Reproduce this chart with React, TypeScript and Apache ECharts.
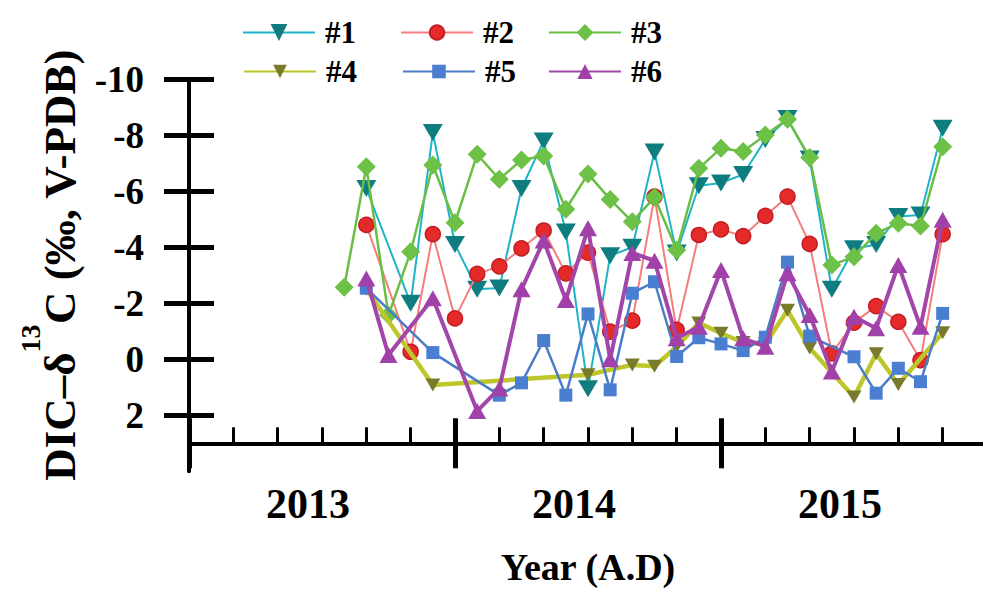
import React, { useEffect, useRef } from "react";
import * as echarts from "echarts";

// Sampling months (index from Jan 2013): Aug 2013 ... Nov 2015
const sampleMonths = [
  "2013-08", "2013-09", "2013-10", "2013-11", "2013-12",
  "2014-01", "2014-02", "2014-03", "2014-04", "2014-05", "2014-06",
  "2014-07", "2014-08", "2014-09", "2014-10", "2014-11", "2014-12",
  "2015-01", "2015-02", "2015-03", "2015-04", "2015-05", "2015-06",
  "2015-07", "2015-08", "2015-09", "2015-10", "2015-11",
];

const seriesNames = ["#1", "#2", "#3", "#4", "#5", "#6"];

const s1 = [null, -6.1, null, -2.0, -8.1, -4.1, -2.5, -2.55, -6.1, -7.8, -4.55, 1.05, -3.7, -4.0, -7.4, -3.8, -6.2, -6.3, -6.6, -7.85, -8.6, -7.15, -2.5, -3.95, -4.1, -5.1, -5.15, -8.25];
const s2 = [null, -4.8, null, -0.27, -4.47, -1.46, -3.05, -3.32, -3.96, -4.6, -3.07, -3.81, -0.99, -1.38, -5.81, -1.05, -4.44, -4.64, -4.4, -5.12, -5.81, -4.12, -0.21, -1.31, -1.9, -1.34, 0.03, -4.47];
const s3 = [-2.57, -6.88, -1.58, -3.84, -6.94, -4.88, -7.32, -6.43, -7.12, -7.26, -5.36, -6.62, -5.71, -4.91, -5.79, -3.9, -6.82, -7.54, -7.42, -8.01, -8.57, -7.21, -3.37, -3.66, -4.5, -4.86, -4.76, -7.59];
const s4 = [null, -2.5, null, null, 0.92, null, null, null, null, null, null, 0.55, null, 0.2, 0.25, -0.45, -1.3, -0.93, -0.6, -0.55, -1.75, -0.4, null, 1.35, -0.2, 0.9, null, -0.95];
const s5 = [null, -2.54, null, null, -0.24, null, null, 1.28, 0.84, -0.67, 1.28, -1.62, 1.09, -2.36, -2.77, -0.1, -0.77, -0.55, -0.31, -0.79, -3.47, -0.83, null, -0.09, 1.21, 0.32, 0.8, -1.64];
const s6 = [null, -2.89, -0.15, null, -2.18, null, 1.85, 1.04, -2.5, -4.24, -2.12, -4.68, 0.0, -3.8, -3.52, -0.75, -1.16, -3.19, -0.75, -0.45, -3.07, -1.58, 0.44, -1.52, -1.11, -3.37, -1.16, -4.98];

const yearLabels = ["2013", "2014", "2015"];
const yearTickValues = [0, 12, 24];
const yTickValues = [-10, -8, -6, -4, -2, 0, 2];

const FONT = "'Liberation Serif', 'Times New Roman', serif";

function monthIndex(s: string): number {
  const [y, m] = s.split("-").map(Number);
  return (y - 2013) * 12 + (m - 1);
}

export default function App() {
  const ref = useRef<HTMLDivElement>(null);

  useEffect(() => {
    document.body.style.margin = "0";
    if (!ref.current) return;
    const chart = echarts.init(ref.current, null, { renderer: "svg" });

    const xs = sampleMonths.map(monthIndex);
    const pair = (vals: (number | null)[]) =>
      xs.map((x, i) => [x, vals[i] === null ? null : vals[i]]);

    const styles = [
      { data: s1, line: "#1FB3C7", lw: 2, mark: "#0F7D80", symbol: "triangle", rot: 180, size: [20, 17], legH: 21 },
      { data: s2, line: "#F67C7C", lw: 2, mark: "#E52A2A", symbol: "circle", rot: 0, size: 15, legH: 18 },
      { data: s3, line: "#6BBE45", lw: 2.5, mark: "#6CC146", symbol: "diamond", rot: 0, size: 19, legH: 21 },
      { data: s4, line: "#BDC62A", lw: 4.5, mark: "#7A7A2C", symbol: "triangle", rot: 180, size: [15, 13], legH: 17 },
      { data: s5, line: "#4A7DC6", lw: 2.5, mark: "#4A7ED0", symbol: "rect", rot: 0, size: 13, legH: 17 },
      { data: s6, line: "#A346A9", lw: 4, mark: "#A040A8", symbol: "triangle", rot: 0, size: [18, 16], legH: 19 },
    ];

    const legendLeft = [237, 395, 543, 238, 397, 543];
    const legendTop = [12, 12, 12, 51, 51, 51];

    const series = styles.map((st, i) => ({
      name: seriesNames[i],
      type: "line",
      xAxisIndex: 0,
      yAxisIndex: 0,
      data: pair(st.data),
      connectNulls: true,
      symbol: st.symbol,
      symbolRotate: st.rot,
      symbolSize: st.size,
      showAllSymbol: true,
      lineStyle: { color: st.line, width: st.lw },
      itemStyle:
        i === 1
          ? { color: st.mark, borderColor: "#C21D24", borderWidth: 1.5 }
          : { color: st.mark },
      emphasis: { disabled: true },
      z: 2 + i,
    }));

    const legends = seriesNames.map((n, i) => ({
      data: [n],
      left: legendLeft[i],
      top: legendTop[i],
      itemWidth: 72,
      itemHeight: styles[i].legH,
      selectedMode: false,
      textStyle: {
        fontSize: 31,
        fontWeight: "bold",
        fontFamily: FONT,
        color: "#000",
        padding: [0, 0, 0, 5],
      },
    }));

    const tickLine = { color: "#000", width: 5 };

    chart.setOption({
      animation: false,
      backgroundColor: "#fff",
      legend: legends,
      grid: {
        left: 189,
        top: 79.3,
        width: 798,
        height: 392,
        containLabel: false,
        outerBoundsMode: "none",
      },
      xAxis: [
        {
          type: "value",
          position: "bottom",
          min: 0,
          max: 36,
          interval: 12,
          offset: -28,
          axisLine: { show: true, onZero: false, lineStyle: { color: "#000", width: 4 } },
          axisTick: { show: true, inside: true, length: 25, lineStyle: tickLine, customValues: yearTickValues },
          minorTick: { show: true, splitNumber: 6, length: 16, lineStyle: { color: "#000", width: 3 } },
          axisLabel: { show: false },
          splitLine: { show: false },
          minorSplitLine: { show: false },
        },
        {
          type: "value",
          position: "bottom",
          min: 0,
          max: 36,
          interval: 12,
          offset: -28,
          axisLine: { show: false, onZero: false },
          axisTick: { show: true, inside: false, length: 25, lineStyle: tickLine, customValues: yearTickValues },
          axisLabel: { show: false },
          splitLine: { show: false },
        },
        {
          type: "value",
          position: "bottom",
          min: 0,
          max: 36,
          interval: 6,
          offset: -28,
          axisLine: { show: false, onZero: false },
          axisTick: { show: false },
          splitLine: { show: false },
          axisLabel: {
            margin: 40,
            fontSize: 42,
            fontWeight: "bold",
            fontFamily: FONT,
            color: "#000",
            padding: [0, 28, 0, 0],
            formatter: (v: number) => {
              if (v % 12 !== 6) return "";
              const k = (v - 6) / 12;
              return yearLabels[k] ?? "";
            },
          },
          name: "Year (A.D)",
          nameLocation: "middle",
          nameGap: 105,
          nameTextStyle: { fontSize: 38, fontWeight: "bold", fontFamily: FONT, color: "#000" },
        },
      ],
      yAxis: [
        {
          type: "value",
          position: "left",
          inverse: true,
          min: -10,
          max: 4,
          interval: 2,
          axisLine: { show: true, onZero: false, lineStyle: { color: "#000", width: 4 } },
          axisTick: { show: true, inside: false, length: 25, lineStyle: tickLine, customValues: yTickValues },
          axisLabel: {
            customValues: yTickValues,
            margin: 45,
            fontSize: 37,
            fontWeight: "bold",
            fontFamily: FONT,
            color: "#000",
          },
          splitLine: { show: false },
        },
        {
          type: "value",
          position: "left",
          inverse: true,
          min: -10,
          max: 4,
          interval: 2,
          axisLine: { show: false, onZero: false },
          axisTick: { show: true, inside: true, length: 25, lineStyle: tickLine, customValues: yTickValues },
          axisLabel: { show: false },
          splitLine: { show: false },
        },
      ],
      graphic: [
        {
          type: "text",
          x: 49,
          y: 265,
          rotation: Math.PI / 2,
          style: {
            text: "{a|DIC\u2013\u03b4}{b|13}{a|C (\u2030, V-PDB)}",
            align: "center",
            verticalAlign: "middle",
            fill: "#000",
            rich: {
              a: { fontSize: 45, fontWeight: "bold", fontFamily: FONT, fill: "#000", lineHeight: 66, verticalAlign: "bottom" },
              b: { fontSize: 28, fontWeight: "bold", fontFamily: FONT, fill: "#000", lineHeight: 28, verticalAlign: "top" },
            },
          },
        },
      ],
      series,
    });

    return () => chart.dispose();
  }, []);

  return <div ref={ref} style={{ width: 983, height: 590 }} />;
}
